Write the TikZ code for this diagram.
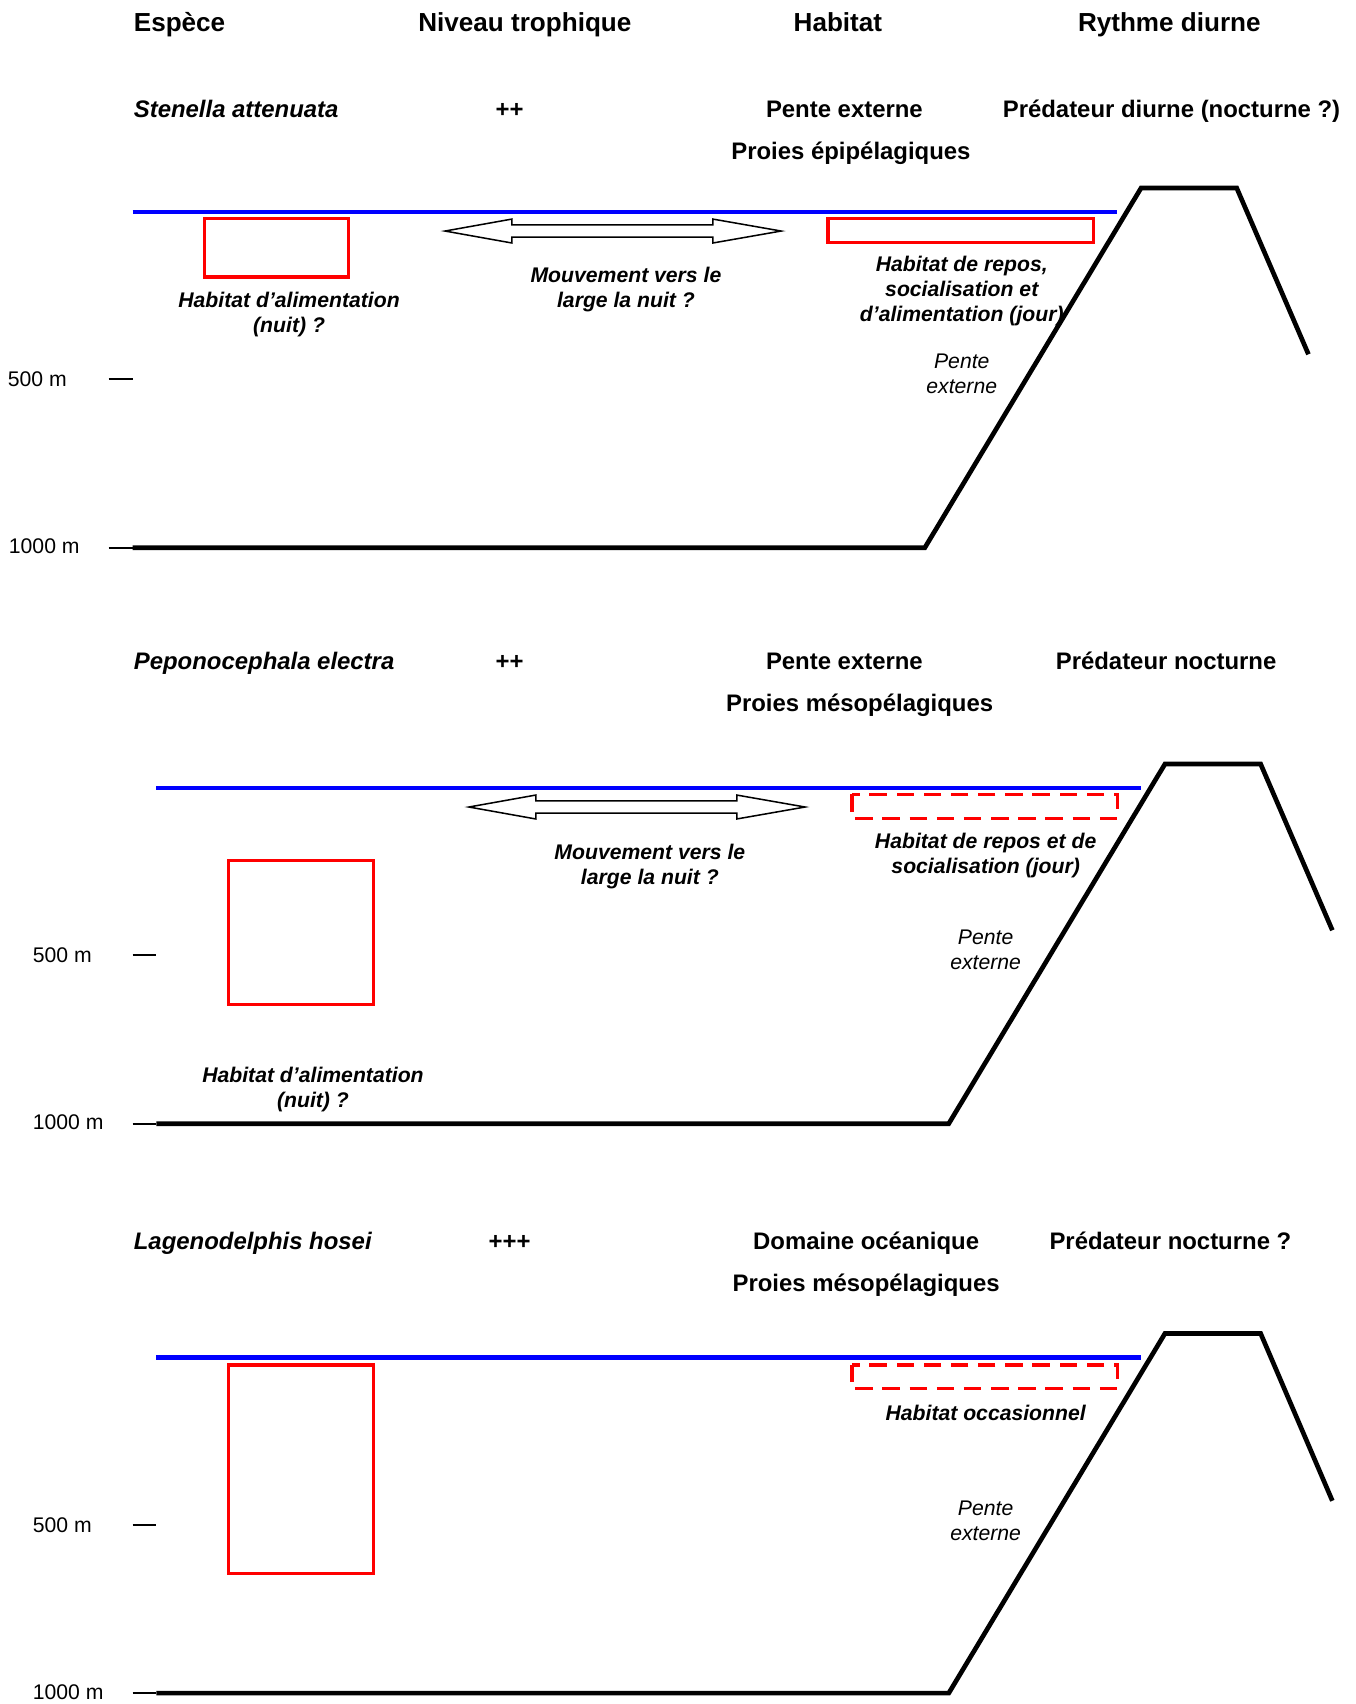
\documentclass[tikz,border=0pt]{standalone}
\usepackage{fontspec}
\setmainfont{Liberation Sans}
\begin{document}
\begin{tikzpicture}[x=1pt,y=-1pt,
  hdr/.style={font=\fontsize{24}{28}\selectfont\bfseries, inner sep=0pt, anchor=base},
  sp/.style={font=\fontsize{22}{26}\selectfont\bfseries, inner sep=0pt, anchor=base},
  spname/.style={font=\fontsize{22}{26}\selectfont\bfseries\itshape, inner sep=0pt, anchor=base west},
  lbl/.style={font=\fontsize{19.5}{23}\selectfont\bfseries\itshape, inner sep=0pt, align=center},
  slope/.style={font=\fontsize{19.5}{23}\selectfont\itshape, inner sep=0pt, align=center},
  depth/.style={font=\fontsize{19.5}{23}\selectfont, inner sep=0pt, anchor=west},
  sea/.style={draw=blue, line width=4.3pt},
  ground/.style={draw=black, line width=4.3pt, line join=miter},
  tick/.style={draw=black, line width=1.5pt},
  habbox/.style={draw=red, line width=3pt},
  habdash/.style={draw=red, line width=3pt, dash pattern=on 16pt off 9pt},
  movarrow/.style={draw=black, line width=1.4pt, fill=white, line join=miter}
]
\useasboundingbox (0,0) rectangle (1247,1568);

% ---------- headers ----------
\node[hdr, anchor=base west] (hEsp) at (123,29) {Espèce};
\node[hdr] (hNiv) at (483,29) {Niveau trophique};
\node[hdr] (hHab) at (771,29) {Habitat};
\node[hdr] (hRyt) at (1076,29) {Rythme diurne};

% ---------- panel 1 ----------
\node[spname] (s1) at (123,108) {Stenella attenuata};
\node[sp] (t1) at (469,108) {++};
\node[sp] (h1) at (777,108) {Pente externe};
\node[sp] (r1) at (1078,108) {Prédateur diurne (nocturne ?)};
\node[sp] (p1) at (783,147) {Proies épipélagiques};

\draw[sea] (122,195) -- (1028,195);
\draw[ground] (122,504) -- (851,504) -- (1050,173) -- (1138,173) -- (1204,326);
\draw[habbox] (188,201) rectangle (321,255);
\draw[habbox] (762,201) rectangle (1006,223);
\draw[movarrow] (409.5,212.6) -- (471,201.6) -- (471,207) -- (656,207) -- (656,201.6) -- (718.8,212.6)
  -- (656,223.6) -- (656,218.2) -- (471,218.2) -- (471,223.6) -- cycle;
\draw[tick] (100,349) -- (122,349);
\draw[tick] (100,504) -- (122,504);
\node[depth] (d1a) at (7,349) {500 m};
\node[depth] (d1b) at (8,503) {1000 m};

\node[lbl] (m1) at (576,266) {Mouvement vers le\\large la nuit ?};
\node[lbl] (a1) at (266,289) {Habitat d’alimentation\\(nuit) ?};
\node[lbl] (j1) at (885,268) {Habitat de repos,\\socialisation et\\d’alimentation (jour)};
\node[slope] (e1) at (885,344) {Pente\\externe};

% ---------- panel 2 ----------
\node[spname] (s2) at (123,616) {Peponocephala electra};
\node[sp] (t2) at (469,616) {++};
\node[sp] (h2) at (777,616) {Pente externe};
\node[sp] (r2) at (1073,616) {Prédateur nocturne};
\node[sp] (p2) at (791,655) {Proies mésopélagiques};

\draw[sea] (144,725) -- (1050,725);
\draw[ground] (144,1034) -- (873,1034) -- (1072,703) -- (1160,703) -- (1226,856);
\draw[habbox] (210,792) rectangle (344,924);
\draw[habdash] (784,731) rectangle (1028,753);
\draw[movarrow] (431.5,742.6) -- (493,731.6) -- (493,737) -- (678,737) -- (678,731.6) -- (740.8,742.6)
  -- (678,753.6) -- (678,748.2) -- (493,748.2) -- (493,753.6) -- cycle;
\draw[tick] (122,879) -- (144,879);
\draw[tick] (122,1034) -- (144,1034);
\node[depth] (d2a) at (30,879) {500 m};
\node[depth] (d2b) at (30,1033) {1000 m};

\node[lbl] (m2) at (598,797) {Mouvement vers le\\large la nuit ?};
\node[lbl] (j2) at (907,787) {Habitat de repos et de\\socialisation (jour)};
\node[slope] (e2) at (907,874) {Pente\\externe};
\node[lbl] (a2) at (288,1003) {Habitat d’alimentation\\(nuit) ?};

% ---------- panel 3 ----------
\node[spname] (s3) at (123,1150) {Lagenodelphis hosei};
\node[sp] (t3) at (469,1150) {+++};
\node[sp] (h3) at (797,1150) {Domaine océanique};
\node[sp] (r3) at (1077,1150) {Prédateur nocturne ?};
\node[sp] (p3) at (797,1188) {Proies mésopélagiques};

\draw[sea] (144,1249) -- (1050,1249);
\draw[ground] (144,1558) -- (873,1558) -- (1072,1227) -- (1160,1227) -- (1226,1381);
\draw[habbox] (210,1256) rectangle (344,1448);
\draw[habdash] (784,1256) rectangle (1028,1278);
\draw[tick] (122,1403) -- (144,1403);
\draw[tick] (122,1558) -- (144,1558);
\node[depth] (d3a) at (30,1403) {500 m};
\node[depth] (d3b) at (30,1557) {1000 m};

\node[lbl] (o3) at (907,1300) {Habitat occasionnel};
\node[slope] (e3) at (907,1399) {Pente\\externe};
\end{tikzpicture}
\end{document}
